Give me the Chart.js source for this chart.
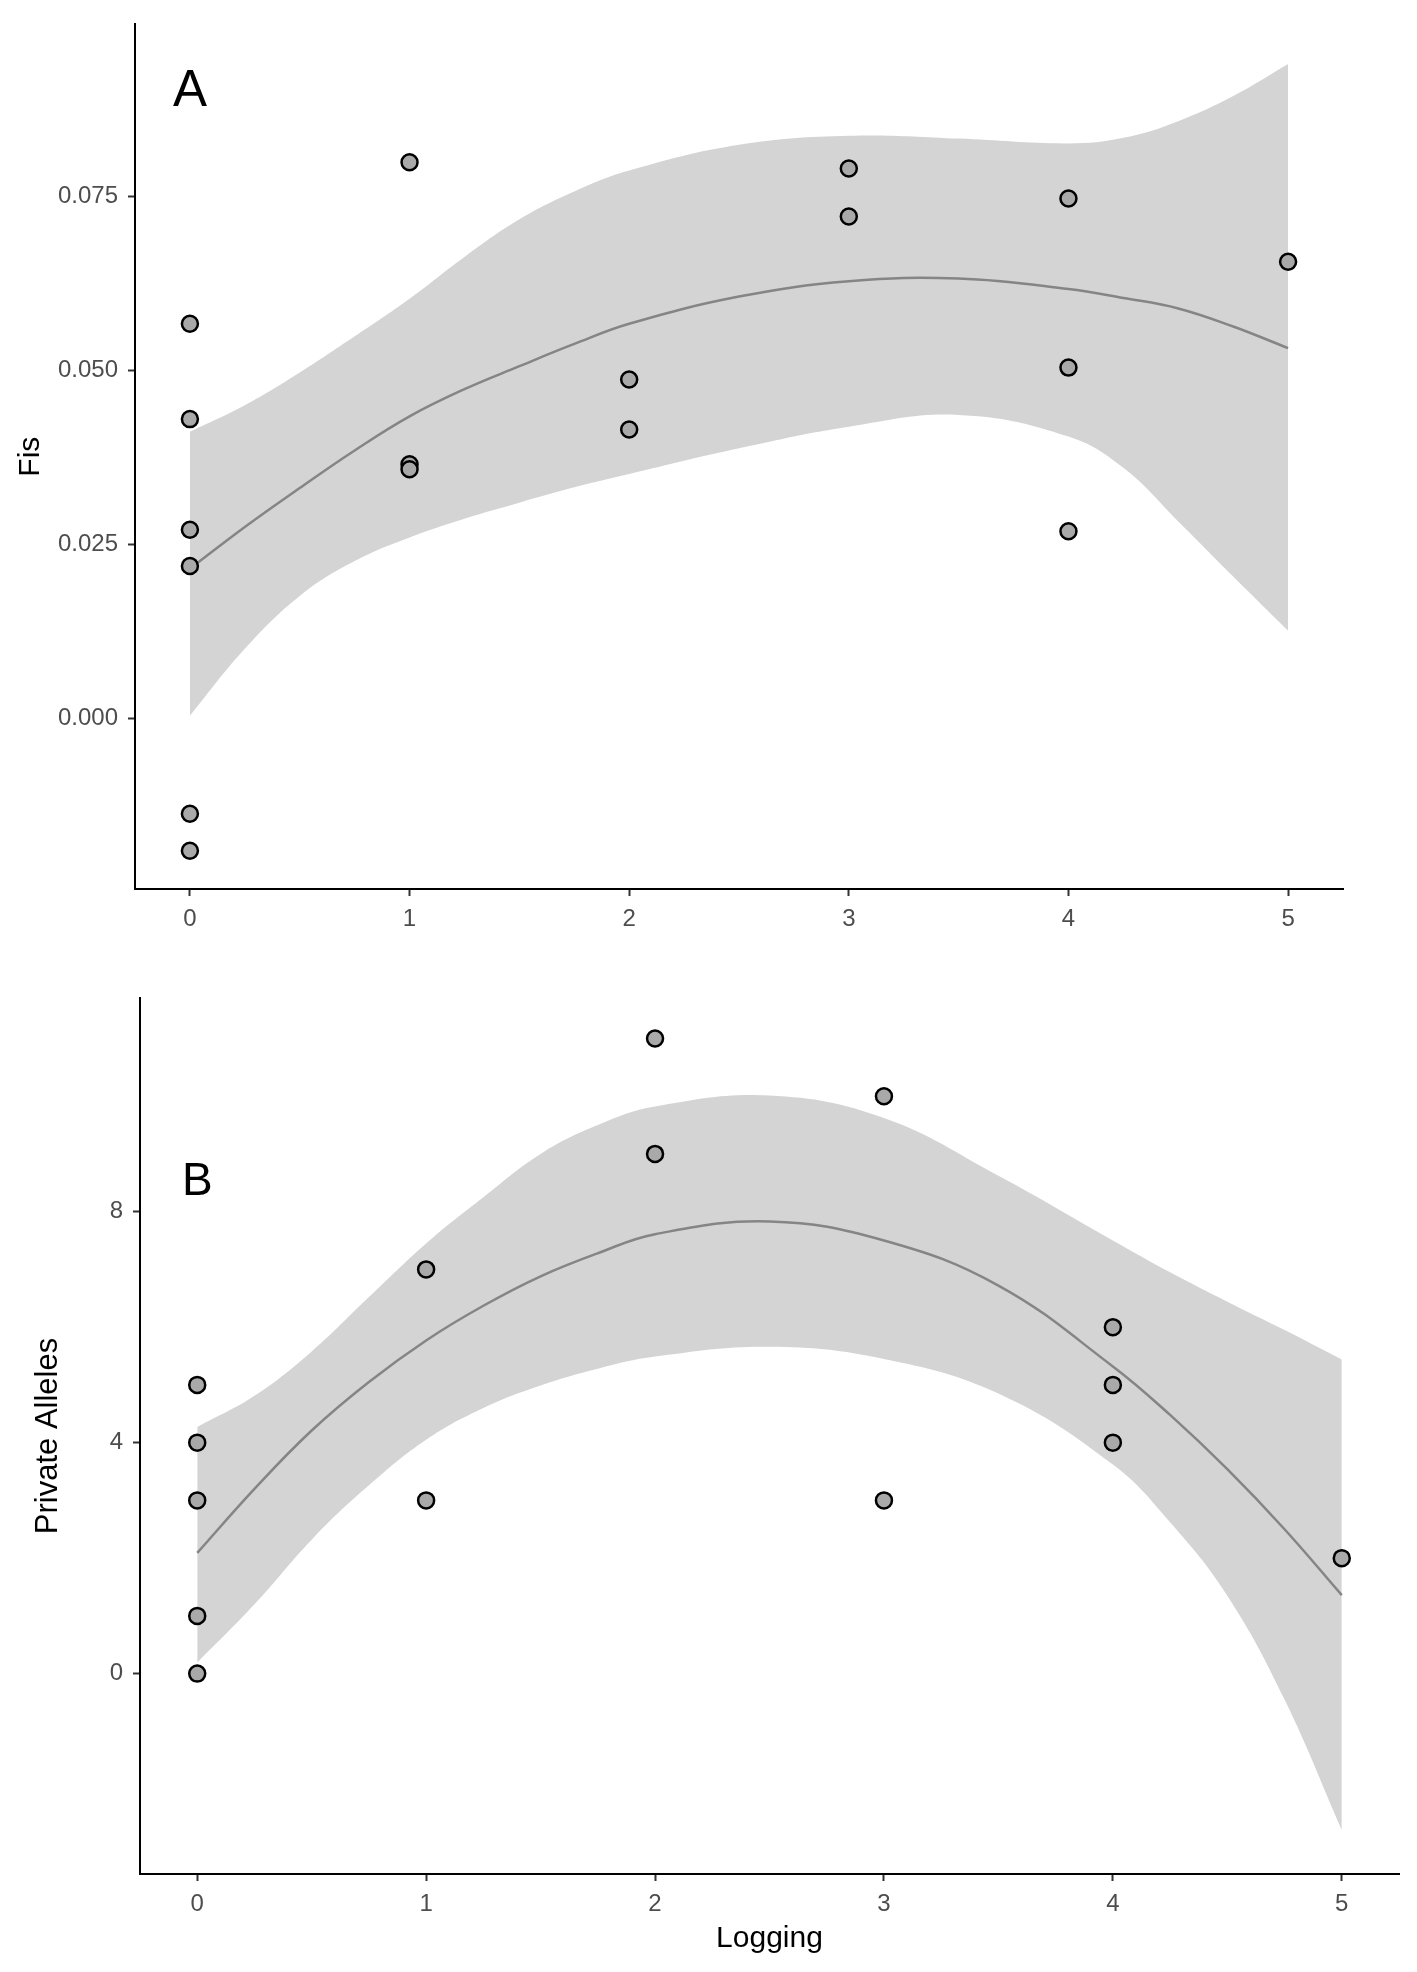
<!DOCTYPE html>
<html>
<head>
<meta charset="utf-8">
<script src="https://cdn.jsdelivr.net/npm/chart.js@4.4.1/dist/chart.umd.min.js"></script>
<style>
  html, body { margin: 0; padding: 0; background: #fff; }
  canvas { position: absolute; left: 0; }
  #fisChart { top: 0; }
  #allelesChart { top: 960px; }
</style>
</head>
<body>
<canvas id="fisChart" width="1417" height="960"></canvas>
<canvas id="allelesChart" width="1417" height="1012"></canvas>
<script>
// ---- shared x axis (Logging) ----
const loggingTicks = [0, 1, 2, 3, 4, 5];
const smoothX = [0, 0.25, 0.5, 0.75, 1, 1.25, 1.5, 1.75, 2, 2.5, 3, 3.5, 4, 4.25, 4.5, 4.75, 5];

// ---- panel A: Fis ----
const fisX = [0, 0, 0, 0, 0, 0, 1, 1, 1, 2, 2, 3, 3, 4, 4, 4, 5];
const fisY = [0.0567, 0.0430, 0.0271, 0.0219, -0.0137, -0.0190, 0.0799, 0.0365, 0.0358,
              0.0487, 0.0415, 0.0790, 0.0721, 0.0747, 0.0504, 0.0269, 0.0656];
const fisFit   = [0.0215, 0.0275, 0.0331, 0.0385, 0.0434, 0.0473, 0.0506, 0.0538, 0.0567,
                  0.0606, 0.0628, 0.0632, 0.0617, 0.0604, 0.0589, 0.0563, 0.0532];
const fisUpper = [0.0412, 0.0450, 0.0497, 0.0549, 0.0603, 0.0663, 0.0717, 0.0757, 0.0787,
                  0.0824, 0.0837, 0.0833, 0.0826, 0.0834, 0.0858, 0.0894, 0.0940];
const fisLower = [0.0004, 0.0100, 0.0176, 0.0226, 0.0260, 0.0287, 0.0310, 0.0332, 0.0351,
                  0.0388, 0.0419, 0.0436, 0.0405, 0.0360, 0.0283, 0.0204, 0.0126];
const fisTicks = [0, 0.025, 0.05, 0.075];
const fisTickLabels = ['0.000', '0.025', '0.050', '0.075'];

// ---- panel B: Private Alleles ----
const allelesX = [0, 0, 0, 0, 0, 1, 1, 2, 2, 3, 3, 4, 4, 4, 5];
const allelesY = [5, 4, 3, 1, 0, 7, 3, 11, 9, 10, 3, 6, 5, 4, 2];
const allelesFit   = [2.09, 3.20, 4.21, 5.05, 5.77, 6.37, 6.88, 7.28, 7.61,
                      7.83, 7.50, 6.72, 5.32, 4.48, 3.54, 2.50, 1.36];
const allelesUpper = [4.27, 4.81, 5.58, 6.52, 7.45, 8.25, 9.00, 9.50, 9.82,
                      10.01, 9.62, 8.62, 7.50, 6.95, 6.44, 5.95, 5.44];
const allelesLower = [0.19, 1.20, 2.32, 3.26, 4.05, 4.60, 4.99, 5.28, 5.49,
                      5.66, 5.45, 4.85, 3.62, 2.62, 1.35, -0.45, -2.71];
const allelesTicks = [0, 4, 8];
const allelesTickLabels = ['0', '4', '8'];

const FONT = '"Liberation Sans", Arial, sans-serif';
const BAND = '#d4d4d4';

function pts(xs, ys) {
    return xs.map((x, i) => ({ x: x, y: ys[i] }));
}

// panel letter drawn at a data position (like annotate() in ggplot)
const panelLetter = {
    id: 'panelLetter',
    afterDraw(chart, args, opts) {
        const ctx = chart.ctx;
        ctx.save();
        ctx.font = opts.size + 'px ' + FONT;
        ctx.fillStyle = '#000';
        ctx.textAlign = 'center';
        ctx.textBaseline = 'middle';
        ctx.fillText(opts.text,
            chart.scales.x.getPixelForValue(opts.x),
            chart.scales.y.getPixelForValue(opts.y));
        ctx.restore();
    }
};

function makePanel(id, p) {
    const axisBits = {
        border: { display: true, color: '#000', width: 2 },
        grid: { display: true, drawOnChartArea: false, drawTicks: true,
                tickLength: 7, tickWidth: 2, tickColor: '#333' }
    };
    return new Chart(document.getElementById(id), {
        type: 'scatter',
        data: {
            datasets: [
                {   // observations
                    data: pts(p.x, p.y),
                    pointRadius: 8,
                    pointHoverRadius: 8,
                    pointBorderWidth: 2.5,
                    pointBackgroundColor: '#a9a9a9',
                    pointBorderColor: '#000',
                    showLine: false,
                    order: 0
                },
                {   // fitted curve
                    data: pts(smoothX, p.fit),
                    showLine: true,
                    pointRadius: 0,
                    borderColor: '#858585',
                    borderWidth: 2.5,
                    tension: 0.4,
                    fill: false,
                    order: 1
                },
                {   // ribbon lower edge
                    data: pts(smoothX, p.lower),
                    showLine: true,
                    pointRadius: 0,
                    borderColor: 'rgba(0,0,0,0)',
                    tension: 0.4,
                    fill: false,
                    order: 2
                },
                {   // ribbon upper edge, filled down to the lower edge
                    data: pts(smoothX, p.upper),
                    showLine: true,
                    pointRadius: 0,
                    borderColor: 'rgba(0,0,0,0)',
                    backgroundColor: BAND,
                    tension: 0.4,
                    fill: 2,
                    order: 3
                }
            ]
        },
        options: {
            responsive: false,
            animation: false,
            devicePixelRatio: 1,
            layout: { padding: p.padding },
            plugins: {
                legend: { display: false },
                tooltip: { enabled: false },
                panelLetter: p.letter
            },
            scales: {
                x: {
                    type: 'linear',
                    min: -0.25,
                    max: 5.25,
                    ...axisBits,
                    afterBuildTicks: s => { s.ticks = loggingTicks.map(v => ({ value: v })); },
                    afterFit: s => { s.height = p.xHeight; },
                    ticks: {
                        color: '#4d4d4d',
                        padding: 9,
                        font: { family: FONT, size: 24 },
                        callback: v => String(v)
                    },
                    title: p.xTitle
                        ? { display: true, text: p.xTitle, color: '#000',
                            font: { family: FONT, size: 30 }, padding: { top: 0, bottom: 15 } }
                        : { display: false }
                },
                y: {
                    type: 'linear',
                    min: p.yMin,
                    max: p.yMax,
                    ...axisBits,
                    afterBuildTicks: s => { s.ticks = p.yTicks.map(v => ({ value: v })); },
                    afterFit: s => { s.width = p.yWidth; },
                    ticks: {
                        color: '#4d4d4d',
                        padding: 10,
                        font: { family: FONT, size: 24 },
                        callback: v => p.yTickLabels[p.yTicks.indexOf(v)]
                    },
                    title: {
                        display: true, text: p.yTitle, color: '#000',
                        font: { family: FONT, size: p.yTitleSize },
                        padding: { top: p.yTitlePad, bottom: 0 }
                    }
                }
            }
        },
        plugins: [panelLetter]
    });
}

makePanel('fisChart', {
    x: fisX, y: fisY, fit: fisFit, upper: fisUpper, lower: fisLower,
    yMin: -0.0245, yMax: 0.0997,
    yTicks: fisTicks, yTickLabels: fisTickLabels,
    yTitle: 'Fis', yTitleSize: 30, yTitlePad: 13,
    xTitle: null,
    yWidth: 135, xHeight: 71,
    padding: { left: 0, right: 74, top: 15, bottom: 0 },
    letter: { text: 'A', x: 0, y: 0.09, size: 51 }
});

makePanel('allelesChart', {
    x: allelesX, y: allelesY, fit: allelesFit, upper: allelesUpper, lower: allelesLower,
    yMin: -3.47, yMax: 11.70,
    yTicks: allelesTicks, yTickLabels: allelesTickLabels,
    yTitle: 'Private Alleles', yTitleSize: 31, yTitlePad: 30,
    xTitle: 'Logging',
    yWidth: 140, xHeight: 98,
    padding: { left: 0, right: 18, top: 38, bottom: 0 },
    letter: { text: 'B', x: 0, y: 8.5, size: 46 }
});
</script>
</body>
</html>
